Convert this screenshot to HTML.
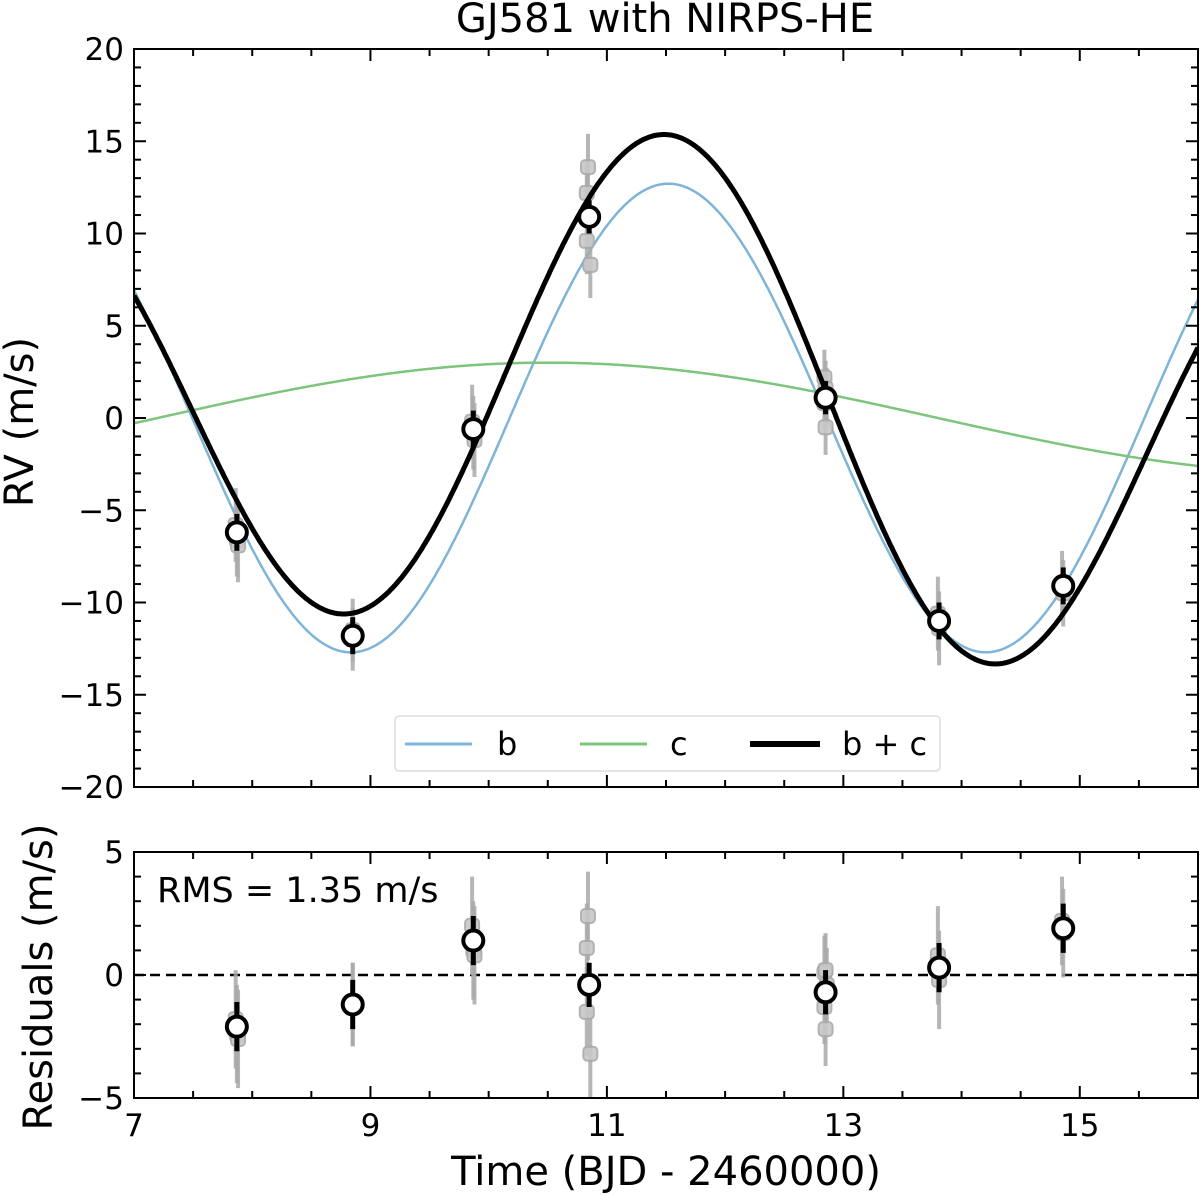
<!DOCTYPE html>
<html><head><meta charset="utf-8"><style>
html,body{margin:0;padding:0;background:#fff;}
svg{display:block;font-family:"DejaVu Sans","Liberation Sans",sans-serif;}
</style></head><body>
<svg id="chart" width="1200" height="1195" viewBox="0 0 1200 1195" xmlns="http://www.w3.org/2000/svg">
<text x="665" y="32" font-size="40" text-anchor="middle">GJ581 with NIRPS-HE</text>
<g id="gtop"></g>
<g id="gbot"></g>
<text x="0" y="0" font-size="40" text-anchor="middle" transform="translate(33,422) rotate(-90)">RV (m/s)</text>
<text x="0" y="0" font-size="40" text-anchor="middle" transform="translate(52,977) rotate(-90)">Residuals (m/s)</text>
<text x="666" y="1185" font-size="40" text-anchor="middle">Time (BJD - 2460000)</text>
<text x="157" y="902" font-size="35">RMS = 1.35 m/s</text>
<g>
<rect x="395" y="716" width="545" height="55" rx="4" fill="#fff" stroke="#ddd" stroke-width="1.5"/>
<line x1="405" y1="744" x2="472" y2="744" stroke="#7fb4d9" stroke-width="3"/>
<text x="497" y="755" font-size="32">b</text>
<line x1="580" y1="744" x2="647" y2="744" stroke="#7dc47d" stroke-width="3"/>
<text x="670" y="755" font-size="32">c</text>
<line x1="750" y1="744" x2="820" y2="744" stroke="#000" stroke-width="6"/>
<text x="842" y="755" font-size="32">b + c</text>
</g>
</svg>
<script>
// Model parameters
const planetB = [12.7, 5.37, 11.52]; // amplitude, period, time of max
const planetC = [3.0, 13.2, 10.5];
// Binned points
const binT = [7.87, 8.85, 9.87, 10.85, 12.85, 13.81, 14.86];
const binRV = [-6.2, -11.8, -0.6, 10.9, 1.1, -11.0, -9.1];
const binRes = [-2.1, -1.2, 1.4, -0.4, -0.7, 0.3, 1.9];
const binErr = [1.0, 1.0, 1.0, 0.9, 0.9, 1.0, 1.0];
// Individual points
const ptT = [7.86,7.87,7.88, 8.85,8.85, 9.86,9.87,9.88, 10.84,10.83,10.83,10.86, 12.84,12.85,12.84,12.85,12.86, 13.80,13.81, 14.85,14.86];
const ptRV = [-5.8,-6.6,-6.9, -11.5,-12.0, -0.2,-0.8,-1.2, 13.6,12.2,9.6,8.3, 2.2,1.6,0.8,-0.5,1.2, -10.6,-11.4, -9.0,-9.5];
const ptRes = [-1.8,-2.4,-2.6, -1.2,-1.2, 2.0,1.0,0.8, 2.4,1.1,-1.5,-3.2, 0.1,0.2,-1.3,-2.2,-0.4, 0.8,-0.2, 2.2,1.7];
const ptErr = [2.0,2.0,2.0, 1.7,1.7, 2.0,2.0,2.0, 1.8,1.8,1.8,1.8, 1.5,1.5,1.5,1.5,1.5, 2.0,2.0, 1.8,1.8];
const xTicks = [7, 9, 11, 13, 15];
const yTicksTop = [-20, -15, -10, -5, 0, 5, 10, 15, 20];
const yTicksBot = [-5, 0, 5];

const NS = "http://www.w3.org/2000/svg";
const X0 = 134, X1 = 1198;
const sx = t => X0 + (t - 7) / 9 * (X1 - X0);
const TOP = [49, 787], BOT = [852, 1098];
const syT = v => TOP[0] + (20 - v) / 40 * (TOP[1] - TOP[0]);
const syB = v => BOT[0] + (5 - v) / 10 * (BOT[1] - BOT[0]);
function mk(parent, tag, attrs) {
  const e = document.createElementNS(NS, tag);
  for (const k in attrs) e.setAttribute(k, attrs[k]);
  parent.appendChild(e); return e;
}
const gTop = document.getElementById('gtop'), gBot = document.getElementById('gbot');
const model = (p, t) => p[0] * Math.cos(2 * Math.PI * (t - p[2]) / p[1]);

function axes(g, Y, sy, yt, minorStep, labels, lo, hi) {
  for (let k = 0; k <= 18; k++) {
    const t = 7 + k * 0.5;
    const major = xTicks.includes(t);
    const L = major ? 12 : 7, x = sx(t);
    const a = mk(g, 'line', {x1: x, x2: x, y1: Y[1], y2: Y[1] - L, stroke: '#000', 'stroke-width': 2});
    
    
    const b = mk(g, 'line', {x1: x, x2: x, y1: Y[0], y2: Y[0] + L, stroke: '#000', 'stroke-width': 2});
    
    
  }
  for (let v = lo; v <= hi; v += minorStep) {
    const major = yt.includes(v);
    const L = major ? 12 : 7, y = sy(v);
    const a = mk(g, 'line', {x1: X0, x2: X0 + L, y1: y, y2: y, stroke: '#000', 'stroke-width': 2});
    
    
    const b = mk(g, 'line', {x1: X1, x2: X1 - L, y1: y, y2: y, stroke: '#000', 'stroke-width': 2});
    
    
  }
  yt.forEach(v => {
    const tx = mk(g, 'text', {x: X0 - 10, y: sy(v) + 11, 'font-size': 31, 'text-anchor': 'end'});
    tx.textContent = (v < 0 ? '\u2212' + (-v) : '' + v);
    
    
  });
  if (labels) xTicks.forEach(t => {
    const tx = mk(g, 'text', {x: sx(t), y: Y[1] + 38, 'font-size': 31, 'text-anchor': 'middle'});
    tx.textContent = '' + t;
    
    
  });
  const f = mk(g, 'rect', {x: X0, y: Y[0], width: X1 - X0, height: Y[1] - Y[0], fill: 'none', stroke: '#000', 'stroke-width': 2});
  
  
}

const defs = mk(document.getElementById('chart'), 'defs', {});
const cp = mk(defs, 'clipPath', {id: 'clipT'});
mk(cp, 'rect', {x: X0, y: TOP[0], width: X1 - X0, height: TOP[1] - TOP[0]});

function curve(fn, color, w, name) {
  let d = '';
  for (let i = 0; i <= 900; i++) {
    const t = 7 + 9 * i / 900;
    d += (i ? 'L' : 'M') + sx(t).toFixed(1) + ',' + syT(fn(t)).toFixed(1);
  }
  const p = mk(gTop, 'path', {d: d, fill: 'none', stroke: color, 'stroke-width': w, 'clip-path': 'url(#clipT)'});
  
  
}
curve(t => model(planetB, t), '#7fb4d9', 2.5, 'curve-b');
curve(t => model(planetC, t), '#7dc47d', 2.5, 'curve-c');

function points(g, sy, vals, bvals, name) {
  ptT.forEach((t, i) => {
    const x = sx(t);
    const l = mk(g, 'line', {x1: x, x2: x, y1: sy(vals[i] - ptErr[i]), y2: sy(vals[i] + ptErr[i]), stroke: '#aaa', 'stroke-width': 4, opacity: 0.85});
    
    
  });
  ptT.forEach((t, i) => {
    const r = mk(g, 'rect', {x: sx(t) - 7, y: sy(vals[i]) - 7, width: 14, height: 14, rx: 4, fill: '#c8c8c8', stroke: '#aaa', 'stroke-width': 2, opacity: 0.9});
    
    
  });
  return () => binT.forEach((t, i) => {
    const x = sx(t);
    const l = mk(g, 'line', {x1: x, x2: x, y1: sy(bvals[i] - binErr[i]), y2: sy(bvals[i] + binErr[i]), stroke: '#000', 'stroke-width': 5});
    
    
    const c = mk(g, 'circle', {cx: x, cy: sy(bvals[i]), r: 10, fill: '#fff', stroke: '#000', 'stroke-width': 4});
    
    
  });
}
const drawBinsT = points(gTop, syT, ptRV, binRV, 'rv');
curve(t => model(planetB, t) + model(planetC, t), '#000', 5, 'curve-b-plus-c');
drawBinsT();

const zl = mk(gBot, 'line', {x1: X0, x2: X1, y1: syB(0), y2: syB(0), stroke: '#000', 'stroke-width': 2.5, 'stroke-dasharray': '10,6'});


const drawBinsB = points(gBot, syB, ptRes, binRes, 'residual');
drawBinsB();

axes(gTop, TOP, syT, yTicksTop, 1, false, -20, 20);
axes(gBot, BOT, syB, yTicksBot, 1, true, -5, 5);
</script>
</body></html>
